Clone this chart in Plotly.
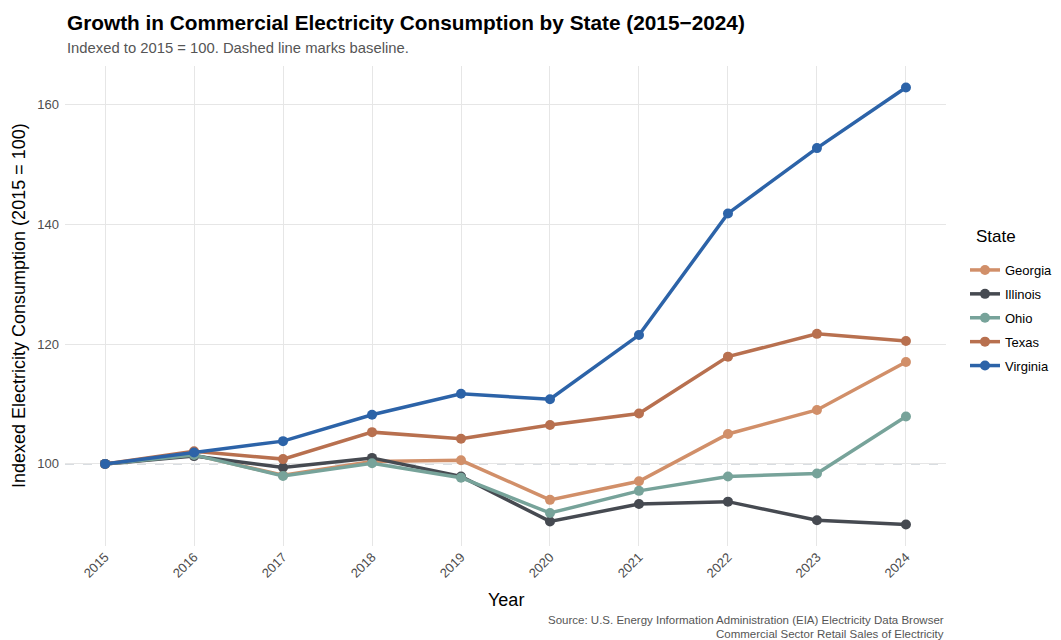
import plotly.graph_objects as go

years = [2015, 2016, 2017, 2018, 2019, 2020, 2021, 2022, 2023, 2024]
states = ["Georgia", "Illinois", "Ohio", "Texas", "Virginia"]
georgia = [100, 101.5, 98.1, 100.4, 100.6, 94.0, 97.1, 105.0, 109.0, 117.0]
illinois = [100, 101.3, 99.4, 101.0, 97.9, 90.4, 93.3, 93.7, 90.6, 89.9]
ohio = [100, 101.5, 98.0, 100.1, 97.7, 91.8, 95.5, 97.9, 98.4, 107.9]
texas = [100, 102.1, 100.8, 105.3, 104.2, 106.5, 108.4, 117.9, 121.7, 120.5]
virginia = [100, 101.9, 103.8, 108.2, 111.7, 110.8, 121.5, 141.8, 152.7, 162.8]
colors = ["#D18F69", "#464A51", "#77A39A", "#B8704F", "#2C63A8"]
values = [georgia, illinois, ohio, texas, virginia]

FONT = "Liberation Sans, Arial, sans-serif"
# page body has an 8px margin: the figure starts at (8, 8) in the screenshot
OFF = 8
PLOT_L, PLOT_R, PLOT_T, PLOT_B = 65, 946, 66, 546
H_PLOT = PLOT_B - PLOT_T
W_PLOT = PLOT_R - PLOT_L

def py(pix):
    return (PLOT_B - pix) / H_PLOT

def px(pix):
    return (pix - PLOT_L) / W_PLOT

fig = go.Figure()
for name, vals, col in zip(states, values, colors):
    fig.add_trace(go.Scatter(
        x=years, y=vals, name=name, mode="lines+markers", legendgroup=name,
        line=dict(color=col, width=3.5),
        marker=dict(color=col, size=10),
    ))

fig.add_shape(type="line", xref="paper", x0=0, x1=1, yref="y", y0=100, y1=100,
              line=dict(color="#B4BCC4", width=1.3, dash="dash"), layer="between")

fig.update_layout(
    width=1061 - OFF, height=640 - OFF,
    paper_bgcolor="white", plot_bgcolor="white",
    margin=dict(l=PLOT_L - OFF, r=1061 - PLOT_R, t=PLOT_T - OFF, b=640 - PLOT_B,
                autoexpand=False),
    font=dict(family=FONT, color="#000000"),
    xaxis=dict(
        range=[2014.55, 2024.45], tickmode="array", tickvals=years,
        ticktext=[str(y) for y in years], tickangle=-45,
        showgrid=True, gridcolor="#E6E6E6", gridwidth=1.4, zeroline=False,
        showline=False, ticks="", automargin=False,
        tickfont=dict(size=13, color="#4D4D4D"),
    ),
    yaxis=dict(
        range=[86.3, 166.4], tickvals=[100, 120, 140, 160],
        showgrid=True, gridcolor="#E6E6E6", gridwidth=1.4, zeroline=False,
        showline=False, ticks="", automargin=False, ticklabelstandoff=5,
        tickfont=dict(size=13, color="#4D4D4D"),
    ),
    legend=dict(
        font=dict(size=13, color="#000000"),
        x=px(965), xanchor="left", y=py(318), yanchor="middle",
        itemwidth=30, tracegroupgap=4, bgcolor="rgba(0,0,0,0)",
    ),
    annotations=[
        dict(text="<b>Growth in Commercial Electricity Consumption by State (2015\u22122024)</b>",
             xref="paper", yref="paper", x=0, y=py(22), xanchor="left", yanchor="middle",
             showarrow=False, font=dict(size=20.8, color="#000000", family=FONT)),
        dict(text="Indexed to 2015 = 100. Dashed line marks baseline.",
             xref="paper", yref="paper", x=0, y=py(48), xanchor="left", yanchor="middle",
             showarrow=False, font=dict(size=14.8, color="#555555", family=FONT)),
        dict(text="Year", xref="paper", yref="paper", x=0.5, y=py(600),
             xanchor="center", yanchor="middle", showarrow=False,
             font=dict(size=18, color="#000000", family=FONT)),
        dict(text="Indexed Electricity Consumption (2015 = 100)", xref="paper", yref="paper",
             x=px(19), y=py(306), xanchor="center", yanchor="middle",
             textangle=-90, showarrow=False,
             font=dict(size=18, color="#000000", family=FONT)),
        dict(text="State", xref="paper", yref="paper", x=px(974), y=py(237),
             xanchor="left", yanchor="middle", showarrow=False,
             font=dict(size=17, color="#000000", family=FONT)),
        dict(text="Source: U.S. Energy Information Administration (EIA) Electricity Data Browser",
             xref="paper", yref="paper", x=1, y=py(619.5), xanchor="right", yanchor="middle",
             align="right", showarrow=False,
             font=dict(size=11.5, color="#555555", family=FONT)),
        dict(text="Commercial Sector Retail Sales of Electricity",
             xref="paper", yref="paper", x=1, y=py(633.5), xanchor="right", yanchor="middle",
             align="right", showarrow=False,
             font=dict(size=11.5, color="#555555", family=FONT)),
    ],
)

fig.write_html("out.html")
